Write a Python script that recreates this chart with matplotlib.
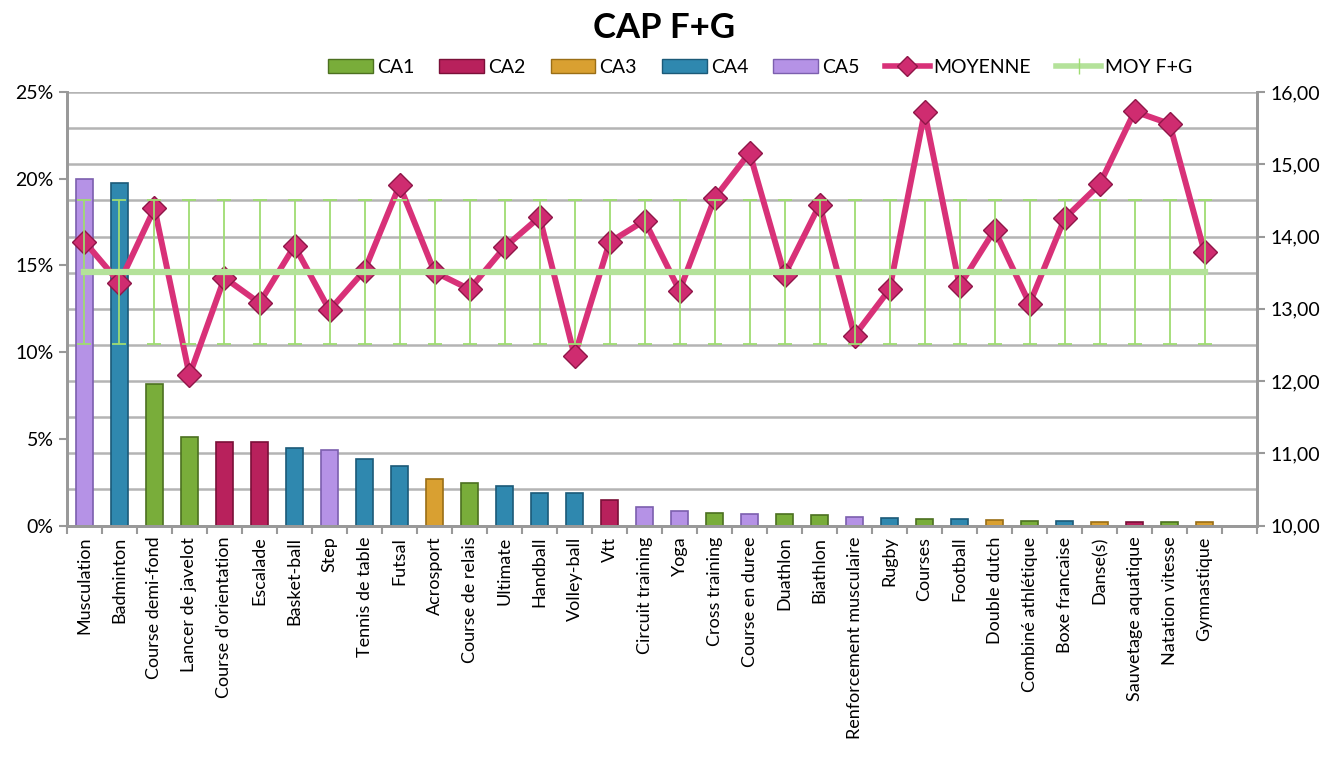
import numpy as np
import matplotlib
matplotlib.use('Agg')
import matplotlib.pyplot as plt
from matplotlib.patches import Patch
from matplotlib.lines import Line2D
from matplotlib.ticker import FuncFormatter, FixedLocator

plt.rcParams['font.family'] = ['Lato', 'DejaVu Sans']

# données
activites = ['Musculation', 'Badminton', 'Course demi-fond', 'Lancer de javelot',
             "Course d'orientation", 'Escalade', 'Basket-ball', 'Step', 'Tennis de table',
             'Futsal', 'Acrosport', 'Course de relais', 'Ultimate', 'Handball', 'Volley-ball',
             'Vtt', 'Circuit training', 'Yoga', 'Cross training', 'Course en duree', 'Duathlon',
             'Biathlon', 'Renforcement musculaire', 'Rugby', 'Courses', 'Football',
             'Double dutch', 'Combiné athlétique', 'Boxe francaise', 'Danse(s)',
             'Sauvetage aquatique', 'Natation vitesse', 'Gymnastique']
groupes = ['CA5', 'CA4', 'CA1', 'CA1', 'CA2', 'CA2', 'CA4', 'CA5', 'CA4', 'CA4', 'CA3', 'CA1',
           'CA4', 'CA4', 'CA4', 'CA2', 'CA5', 'CA5', 'CA1', 'CA5', 'CA1', 'CA1', 'CA5', 'CA4',
           'CA1', 'CA4', 'CA3', 'CA1', 'CA4', 'CA3', 'CA2', 'CA1', 'CA3']
pourcentages = [20.0, 19.75, 8.15, 5.1, 4.8, 4.8, 4.5, 4.37, 3.83, 3.46, 2.68, 2.44, 2.29,
                1.9, 1.9, 1.48, 1.1, 0.83, 0.74, 0.69, 0.68, 0.6, 0.52, 0.43, 0.39, 0.39,
                0.35, 0.29, 0.25, 0.21, 0.21, 0.19, 0.19]
moyenne = [13.93, 13.36, 14.39, 12.08, 13.43, 13.08, 13.87, 12.98, 13.53, 14.71, 13.51,
           13.27, 13.85, 14.27, 12.35, 13.92, 14.22, 13.25, 14.53, 15.16, 13.47, 14.44,
           12.63, 13.27, 15.72, 13.32, 14.09, 13.07, 14.25, 14.72, 15.73, 15.56, 13.78]
moy_fg = 13.51
ecart = 1.0

couleurs = {'CA1': '#79ad3a', 'CA2': '#b8215c', 'CA3': '#d9a031',
            'CA4': '#2f88af', 'CA5': '#b592e6'}
bords = {'CA1': '#4c7020', 'CA2': '#7a1038', 'CA3': '#9a6e16',
         'CA4': '#1b5a78', 'CA5': '#7c5fae'}

n_slots = len(activites) + 1  # une case vide à la fin
x = np.arange(len(activites))

fig = plt.figure(figsize=(13.29, 7.64), dpi=100)
ax = fig.add_axes([0.0504, 0.312, 0.8955, 0.5676])
ax2 = ax.twinx()

# quadrillage (échelle de droite, pas de 0,5)
for v in np.arange(10, 16.01, 0.5):
    ax.axhline((v - 10) / 6 * 25, color='#b4b4b4', lw=1.8, zorder=0)

# barres par groupe
for ca in ['CA1', 'CA2', 'CA3', 'CA4', 'CA5']:
    idx = [i for i, g in enumerate(groupes) if g == ca]
    ax.bar(x[idx], [pourcentages[i] for i in idx], width=0.5, color=couleurs[ca],
           edgecolor=bords[ca], linewidth=1.2, zorder=2)

ax.set_xlim(-0.5, n_slots - 0.5)
ax.set_ylim(0, 25)
ax.set_yticks([0, 5, 10, 15, 20, 25])
ax.yaxis.set_major_formatter(FuncFormatter(lambda v, p: f'{v:.0f}%'))
ax.set_xticks(x)
ax.set_xticklabels(activites, rotation=90, fontsize=13)
ax.tick_params(axis='x', length=0, pad=8)
ax.xaxis.set_minor_locator(FixedLocator(np.arange(-0.5, n_slots, 1.0)))
ax.tick_params(axis='x', which='minor', length=6, width=1.5, color='#999999')
ax.tick_params(axis='y', labelsize=14, length=6, width=1.5, color='#999999')

# axe de droite
ax2.plot(x, moyenne, color='#d83178', lw=4.3, marker='D', markersize=12,
         markerfacecolor='#cf2c70', markeredgecolor='#8f1648', markeredgewidth=1, zorder=3)
ax2.errorbar(x, [moy_fg] * len(x), yerr=ecart, color='#b4e29a', lw=4.5,
             ecolor='#9fdc72', elinewidth=1.3, capsize=5, capthick=1.3, zorder=4)
ax2.set_ylim(10, 16)
ax2.set_yticks(np.arange(10, 16.01, 1))
ax2.yaxis.set_major_formatter(FuncFormatter(lambda v, p: f'{v:.2f}'.replace('.', ',')))
ax2.tick_params(axis='y', labelsize=14, length=6, width=1.5, color='#999999')

for a in (ax, ax2):
    for s in ['left', 'right', 'bottom']:
        a.spines[s].set_color('#999999')
        a.spines[s].set_linewidth(2)
    a.spines['top'].set_visible(False)

fig.suptitle('CAP F+G', fontsize=25, fontweight='bold', y=0.984)

handles = [Patch(facecolor=couleurs[c], edgecolor=bords[c], label=c)
           for c in ['CA1', 'CA2', 'CA3', 'CA4', 'CA5']]
handles.append(Line2D([], [], color='#d83178', lw=4, marker='D', markersize=10,
                      markerfacecolor='#cf2c70', markeredgecolor='#8f1648', label='MOYENNE'))
handles.append(Line2D([], [], color='#b4e29a', lw=4, marker='|', markersize=12,
                      markeredgecolor='#9fdc72', label='MOY F+G'))
fig.legend(handles=handles, loc='center', bbox_to_anchor=(0.572, 0.912), ncol=7,
           frameon=False, fontsize=14, handlelength=2.3, handleheight=0.7,
           handletextpad=0.2, columnspacing=1.3)

fig.savefig('out.png', dpi=100)
